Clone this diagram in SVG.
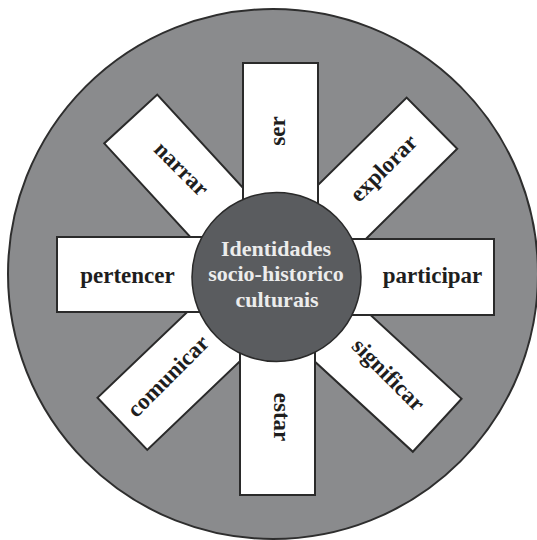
<svg xmlns="http://www.w3.org/2000/svg" width="537" height="540" viewBox="0 0 537 540">
<style>
.bg{fill:#8a8b8d;stroke:#2e2e2e;stroke-width:2}
.arm{fill:#ffffff;stroke:#2a2a2a;stroke-width:2}
.hub{fill:#5a5c5f;stroke:#2a2a2a;stroke-width:1.5}
.lbl{font-family:"Liberation Serif","Times New Roman",serif;font-weight:bold;font-size:23px;fill:#1e1e1e;text-anchor:middle}
.ctr{font-family:"Liberation Serif","Times New Roman",serif;font-weight:bold;font-size:22px;fill:#ececec;text-anchor:middle}
</style>
<rect width="537" height="540" fill="#ffffff"/>
<circle class="bg" cx="273" cy="274" r="265"/>
<g id="narrar">
<rect class="arm" transform="translate(276 277) rotate(-132.6)" x="0" y="-36" width="214.6" height="72"/>
<text class="lbl" transform="translate(180 170) rotate(45)" x="0" y="5.5">narrar</text>
</g>
<g id="explorar">
<rect class="arm" transform="translate(276 277) rotate(-44.6)" x="0" y="-36" width="219" height="72"/>
<text class="lbl" transform="translate(385 169.5) rotate(-45)" x="0" y="5.5">explorar</text>
</g>
<g id="comunicar">
<rect class="arm" transform="translate(276 277) rotate(136.3)" x="0" y="-36" width="212.5" height="72"/>
<text class="lbl" transform="translate(169.5 377.5) rotate(-45)" x="0" y="5.5">comunicar</text>
</g>
<g id="significar">
<rect class="arm" transform="translate(276 277) rotate(42.6)" x="0" y="-36" width="219" height="72"/>
<text class="lbl" transform="translate(387 376) rotate(45)" x="0" y="5.5">significar</text>
</g>
<g id="ser">
<rect class="arm" x="243" y="63" width="75" height="214"/>
<text class="lbl" transform="translate(284.5 131) rotate(-90)" x="0" y="0">ser</text>
</g>
<g id="estar">
<rect class="arm" x="240" y="277" width="75" height="218"/>
<text class="lbl" transform="translate(274 417) rotate(90)" x="0" y="0">estar</text>
</g>
<g id="pertencer">
<rect class="arm" x="57" y="237" width="219" height="75"/>
<text class="lbl" x="127.5" y="282.5">pertencer</text>
</g>
<g id="participar">
<rect class="arm" x="276" y="239" width="218" height="76"/>
<text class="lbl" x="432.5" y="283">participar</text>
</g>
<g id="connectors"></g>
<g id="hub">
<circle class="hub" cx="276.5" cy="277" r="84.5"/>
<text class="ctr" x="276" y="255.5">Identidades</text>
<text class="ctr" x="276" y="281">socio-historico</text>
<text class="ctr" x="277" y="306.5">culturais</text>
</g>
</svg>
